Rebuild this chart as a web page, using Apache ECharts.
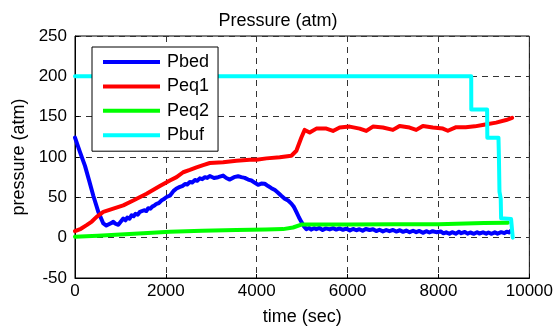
<!DOCTYPE html>
<html>
<head>
<meta charset="utf-8">
<title>Pressure (atm)</title>
<script src="https://cdn.jsdelivr.net/npm/echarts@6/dist/echarts.min.js"></script>
<style>
  html, body { margin: 0; padding: 0; background: #fff; }
  #chart { width: 556px; height: 331px; }
</style>
</head>
<body>
<div id="chart"></div>
<script>
// Bed pressure (Pbed)
const pbedTime = [0, 110, 220, 310, 403, 513, 623, 690, 733, 790, 843, 900, 953, 1010, 1062, 1110, 1150, 1200, 1245, 1290,
  1330, 1380, 1429, 1470, 1520, 1570, 1612, 1660, 1700, 1750, 1795, 1850, 1900, 1950, 2015, 2050, 2088, 2130, 2170, 2200,
  2235, 2270, 2308, 2360, 2420, 2470, 2528, 2580, 2640, 2690, 2747, 2800, 2860, 2910, 2967, 3060, 3150, 3260, 3330, 3407,
  3500, 3590, 3660, 3736, 3810, 3883, 3960, 4030, 4100, 4176, 4250, 4323, 4400, 4469, 4540, 4616, 4690, 4762, 4820, 4872,
  4930, 4982, 5040, 5092, 5150, 5200, 5260, 5312, 5380, 5450, 5520, 5605, 5680, 5750, 5820, 5898, 5970, 6050, 6120, 6191,
  6260, 6330, 6400, 6484, 6560, 6630, 6700, 6777, 6850, 6920, 7000, 7070, 7150, 7220, 7290, 7364, 7440, 7510, 7580, 7657,
  7730, 7800, 7870, 7950, 8050, 8110, 8169, 8240, 8300, 8380, 8450, 8500, 8580, 8640, 8700, 8780, 8850, 8900, 8980, 9050,
  9100, 9170, 9240, 9300, 9380, 9450, 9500, 9550, 9600];
const pbedValues = [124, 106, 89, 71, 52, 32, 17.6, 15, 16.3, 18, 19.6, 17, 16, 20, 23.7, 21.5, 25, 23.5, 27.8, 26.5,
  29.5, 28.5, 32, 31, 34, 33, 36.5, 36, 38.5, 40, 42, 43, 46, 47.5, 50.4, 49.5, 52, 55, 58, 57.5,
  61, 60.5, 63, 64, 66.5, 66, 69, 68.5, 71.5, 70.5, 73.5, 72.5, 75, 74, 76.5, 74, 75, 77, 74, 72,
  75, 76.2, 75, 74.1, 72, 70.9, 68, 65.5, 67, 66.8, 64, 61.4, 59, 55.7, 52, 48.3, 46, 42.2, 38, 31.9,
  25, 19.6, 14, 10.6, 12, 10, 11.8, 10.5, 12, 9.5, 11.5, 10.2, 11.8, 10, 11.5, 9.8, 11.2, 9, 10.8, 9.2,
  10.5, 8.5, 10.8, 9.5, 10.4, 8.2, 9.8, 7.8, 9.5, 8, 9.6, 7.6, 9.2, 7.2, 8.8, 6.8, 8.6, 6.8, 8.4, 6,
  8, 6.4, 8, 6.8, 7.6, 5.4, 6.6, 4.8, 6.8, 5, 7.2, 5.6, 7, 5, 6.4, 4.8, 6.8, 5.2, 6.6, 5,
  6.4, 4.8, 6.6, 5, 6.8, 5.6, 7.4, 6.5, 9];

// First equalisation tank (Peq1)
const peq1Time = [0, 130, 256, 370, 476, 623, 843, 1062, 1282, 1575, 1868, 2088, 2235, 2381, 2528, 2674, 2820, 2967, 3260, 3553,
  3846, 3993, 4213, 4506, 4762, 4872, 4982, 5055, 5165, 5312, 5532, 5678, 5825, 6045, 6265, 6411, 6557, 6777, 6997, 7144,
  7364, 7510, 7657, 7876, 8096, 8206, 8389, 8600, 8800, 9000, 9268, 9488, 9620];
const peq1Values = [8, 11, 15.5, 20, 25.8, 32, 36, 40, 46, 54.5, 64, 70.9, 75, 81.1, 84, 87.2, 90, 92.6, 93.4, 95.4,
  96.7, 96.7, 98.3, 99.6, 101.6, 107.7, 124.2, 133.6, 130.3, 135.2, 135.2, 132.3, 136.5, 137.7, 135.2, 132.3, 137.7, 136.5, 133.6, 138.5,
  136.5, 133.6, 138.5, 136.5, 135.2, 132.5, 137, 137, 138, 140, 142.6, 145.8, 148.5];

// Second equalisation tank (Peq2)
const peq2Time = [0, 500, 1000, 1500, 2088, 2800, 3553, 4200, 4579, 4799, 4982, 5100, 6000, 7000, 8000, 8600, 9000, 9525];
const peq2Values = [1.2, 2.5, 4, 5.5, 7.3, 8.5, 9.4, 10, 10.6, 12.6, 16.3, 16.3, 16.3, 16.5, 16.7, 17.5, 18.2, 18.4];

// Buffer tank (Pbuf)
const pbufTime = [0, 8720, 8722, 9070, 9075, 9320, 9330, 9342, 9370, 9378, 9598, 9634];
const pbufValues = [200, 200, 159, 159, 124, 124, 100, 57, 48, 24, 23, 0];

const seriesNames = ['Pbed', 'Peq1', 'Peq2', 'Pbuf'];
const seriesColors = ['#0000ff', '#ff0000', '#00ff00', '#00ffff'];

const xTicks = { min: 0, max: 10000, interval: 2000 };
const yTicks = { min: -50, max: 250, interval: 50 };

function zip(ts, vs) {
  return ts.map((t, i) => [t, vs[i]]);
}

const seriesData = [
  zip(pbedTime, pbedValues),
  zip(peq1Time, peq1Values),
  zip(peq2Time, peq2Values),
  zip(pbufTime, pbufValues)
];

const FONT = "'Liberation Sans', Arial, Helvetica, sans-serif";

const chart = echarts.init(document.getElementById('chart'), null, { renderer: 'canvas' });

const gridLine = { show: true, lineStyle: { color: '#333', width: 1, type: [6, 5] } };
const plainNumber = v => String(v);

chart.setOption({
  animation: false,
  backgroundColor: '#fff',
  title: {
    text: 'Pressure (atm)',
    left: 'center',
    top: 7,
    textStyle: { fontFamily: FONT, fontSize: 18, fontWeight: 'normal', color: '#000' }
  },
  legend: {
    data: seriesNames,
    orient: 'vertical',
    left: 92,
    top: 47,
    icon: 'rect',
    itemWidth: 57,
    itemHeight: 4,
    itemGap: 4.4,
    padding: [5, 9, 6, 11],
    backgroundColor: '#fff',
    borderColor: '#000',
    borderWidth: 1,
    selectedMode: false,
    textStyle: { fontFamily: FONT, fontSize: 18, color: '#000', lineHeight: 20, padding: [0, 0, 0, 2] }
  },
  grid: {
    left: 75, right: 26, top: 36, bottom: 51,
    show: true, borderColor: '#000', borderWidth: 1, backgroundColor: '#fff'
  },
  xAxis: {
    type: 'value',
    min: xTicks.min, max: xTicks.max, interval: xTicks.interval,
    name: 'time (sec)',
    nameLocation: 'middle',
    nameGap: 30,
    nameTextStyle: { fontFamily: FONT, fontSize: 18, color: '#000' },
    axisLine: { show: true, onZero: false, lineStyle: { color: '#000', width: 1 } },
    axisTick: { show: true, inside: true, length: 4, lineStyle: { color: '#000' } },
    axisLabel: { fontFamily: FONT, fontSize: 17, color: '#000', margin: 5, formatter: plainNumber },
    splitLine: gridLine
  },
  yAxis: {
    type: 'value',
    min: yTicks.min, max: yTicks.max, interval: yTicks.interval,
    name: 'pressure (atm)',
    nameLocation: 'middle',
    nameGap: 46,
    nameTextStyle: { fontFamily: FONT, fontSize: 18, color: '#000' },
    axisLine: { show: true, onZero: false, lineStyle: { color: '#000', width: 1 } },
    axisTick: { show: true, inside: true, length: 4, lineStyle: { color: '#000' } },
    axisLabel: { fontFamily: FONT, fontSize: 17, color: '#000', margin: 8, formatter: plainNumber },
    splitLine: gridLine
  },
  series: seriesNames.map((name, i) => ({
    name: name,
    type: 'line',
    data: seriesData[i],
    showSymbol: false,
    symbol: 'none',
    clip: true,
    color: seriesColors[i],
    lineStyle: { color: seriesColors[i], width: 4, join: 'round', cap: 'round' }
  }))
});
</script>
</body>
</html>
